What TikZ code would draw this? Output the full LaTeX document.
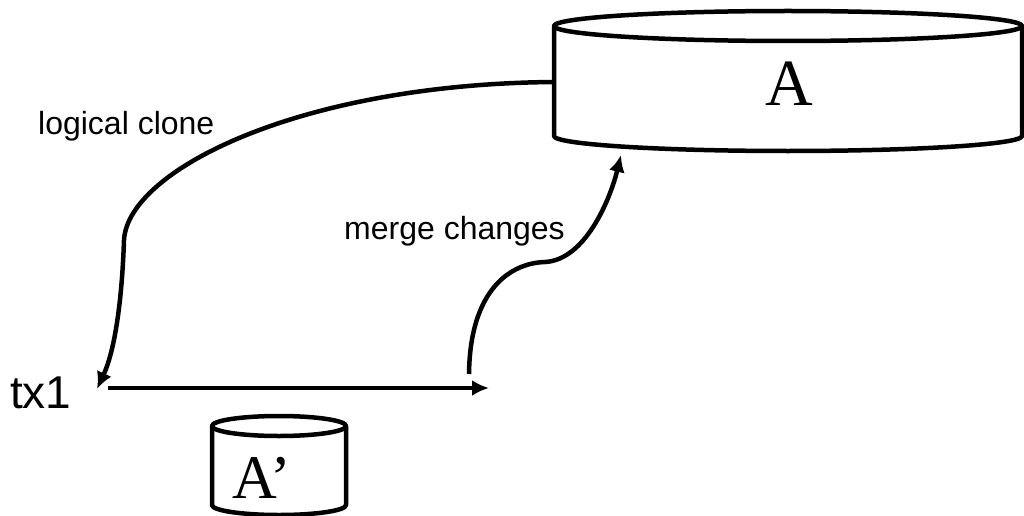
\documentclass[tikz,border=0pt]{standalone}
\usepackage{fontspec}
\setmainfont{Liberation Serif}
\setsansfont{Liberation Sans}
\usetikzlibrary{arrows.meta}
\tikzset{
  crta/.style={line width=4.5pt},
  puscica/.style={crta, -{Latex[length=17pt,width=16pt]}},
  valj/.style={line width=4.5pt, line join=round},
  napis/.style={font=\sffamily\fontsize{32}{32}\selectfont, inner sep=0pt},
  os/.style={font=\sffamily\fontsize{46}{46}\selectfont, inner sep=0pt},
  ime/.style={font=\fontsize{#1}{#1}\selectfont, inner sep=0pt}
}
\begin{document}
\begin{tikzpicture}[x=1pt, y=-1pt]
  \useasboundingbox (0,0) rectangle (1024,516);
  % koordinate
  \coordinate (Alevo) at (554,82);
  \coordinate (Adno) at (621,155);
  \coordinate (Tzac) at (108,388);
  \coordinate (Tkon) at (489,388);
  \coordinate (Mzac) at (469,374);
  \coordinate (Kkon) at (97,389);
  % valj A
  \draw [valj] (554,26) -- (554,136)
    arc [start angle=180, end angle=360, x radius=234pt, y radius=15pt] -- (1022,26);
  \draw [valj] (788,26) ellipse [x radius=234pt, y radius=15pt];
  % valj A'
  \draw [valj] (212,426) -- (212,505)
    arc [start angle=180, end angle=360, x radius=67pt, y radius=10pt] -- (346,426);
  \draw [valj] (279,426) ellipse [x radius=67pt, y radius=10pt];
  % puščice
  \draw [puscica] (Tzac) -- (Tkon);
  \draw [puscica] (Alevo) .. controls (300,84) and (128,170) .. (124,240)
    .. controls (122,300) and (115,350) .. (Kkon);
  \draw [puscica] (Mzac) .. controls (470,290) and (510,263) .. (545,262)
    .. controls (585,260) and (610,200) .. (Adno);
  % oznake
  \node (A) [ime=66, anchor=base] at (789,106) {A};
  \node (Acrt) [ime=62, anchor=base] at (262,498) {A’};
  \node (tx) [os, anchor=base west] at (10,408) {tx1};
  \node (klon) [napis, anchor=base west] at (38,134) {logical clone};
  \node (spoj) [napis, anchor=base west] at (344,239) {merge changes};
\end{tikzpicture}
\end{document}
